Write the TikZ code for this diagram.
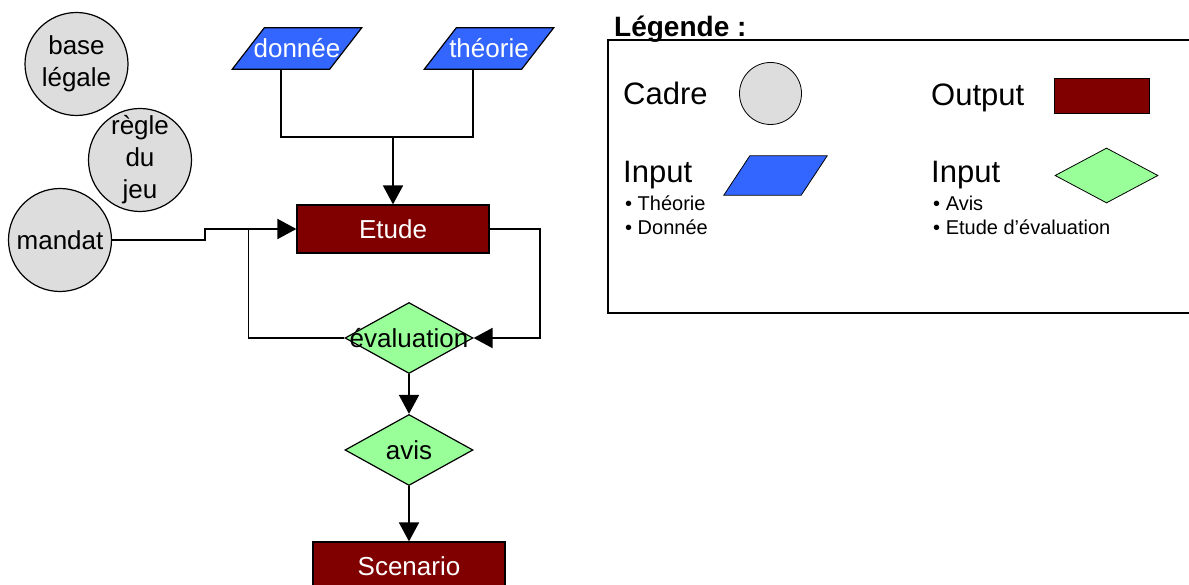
\documentclass[tikz,border=0pt]{standalone}
\usepackage{fontspec}
\setmainfont{Liberation Sans}
\usetikzlibrary{arrows.meta,shapes.geometric,backgrounds}
\definecolor{rougeSortie}{RGB}{128,0,0}
\definecolor{bleuEntree}{RGB}{51,102,255}
\definecolor{vertAvis}{RGB}{153,255,153}
\definecolor{grisCadre}{RGB}{221,221,221}
\newcommand{\gros}{\fontsize{26}{32}\selectfont}
\tikzset{
	cadre/.style={circle, draw, fill=grisCadre, line width=1.2pt, minimum size=103pt, inner sep=0pt},
	texteCadre/.style={align=center, font=\gros, inner sep=0pt},
	sortie/.style={rectangle, draw, fill=rougeSortie, line width=1.2pt, minimum width=192pt, minimum height=48pt, text=white, font=\gros},
	entree/.style={minimum width=97pt, minimum height=41pt, inner sep=0pt, text=white, font=\gros},
	losange/.style={diamond, draw, fill=vertAvis, line width=1.2pt, minimum width=128pt, minimum height=71pt, inner sep=0pt, font=\gros},
	fleche/.style={line width=1.8pt, -{Triangle[length=19pt,width=20pt]}},
	trait/.style={line width=1.8pt},
	legende/.style={anchor=base west, inner sep=0pt, font=\fontsize{31}{31}\selectfont},
	puce/.style={anchor=base west, inner sep=0pt, font=\fontsize{20}{24}\selectfont},
}
\begin{document}
\begin{tikzpicture}[x=1pt,y=-1pt]
	\useasboundingbox (0,0) rectangle (1189,585);
	% cadres
	\foreach \Nom/\Xc/\Yc/\Texto in 
	{base/76.5/64/{base\\légale},regle/140/160/{règle\\du\\jeu},mandat/60/240/{mandat}}
	{
		\node[cadre, label={[texteCadre]center:\Texto}] (\Nom) at (\Xc,\Yc) {};
	}
	% entrees et sorties
	\node[entree] (donnee) at (297,48.5) {donnée};
	\node[entree] (theorie) at (489,48.5) {théorie};
	\node[sortie] (etude) at (393,229) {Etude};
	\node[losange] (eval) at (409,338) {\makebox[0pt]{évaluation}};
	\node[losange] (avis) at (409,450) {avis};
	\node[sortie] (scenario) at (409,566) {Scenario};
	% legende
	\draw[line width=1.6pt] (608,40) rectangle (1200,313);
	\node[anchor=base west, inner sep=0pt, font=\fontsize{28}{28}\selectfont\bfseries] (titreLegende) at (614,37) {Légende :};
	\node[legende] (cleCadreTxt) at (623,105) {Cadre};
	\node[cadre, minimum size=62pt, line width=0.8pt] (cleCadre) at (770.5,93.5) {};
	\node[legende] (cleSortieTxt) at (931,106) {Output};
	\node[sortie, minimum width=95pt, minimum height=35pt, line width=0.8pt] (cleSortie) at (1101.5,95.5) {};
	\node[legende] (cleEntreeTxt) at (623,183) {Input};
	\node[entree, minimum width=77pt, minimum height=39pt] (clePara) at (775.5,175.5) {};
	\node[legende] (cleAvisTxt) at (931,183) {Input};
	\node[losange, minimum width=103pt, minimum height=55pt, line width=0.8pt] (cleLosange) at (1106.5,175.5) {};
	\foreach \Xc/\Yc/\Texto [count=\i] in 
	{625/211/Théorie,625/235/Donnée,933/211/Avis,933/235/Etude d’évaluation}
	{
		\node[puce] (puce\i) at (\Xc,\Yc) {• \Texto};
	}
	% parallelogrammes
	\begin{scope}[on background layer]
		\foreach \Nom/\Dx/\Lw in {donnee/16/1.2,theorie/16/1.2,clePara/13/0.8}
		{
			\filldraw[fill=bleuEntree, line width=\Lw pt] 
			([xshift=-\Dx pt]\Nom.south west) -- ([xshift=-\Dx pt]\Nom.south east) 
			-- ([xshift=\Dx pt]\Nom.north east) -- ([xshift=\Dx pt]\Nom.north west) -- cycle;
		}
	\end{scope}
	% connecteurs
	\coordinate (jonction) at (393,137);
	\draw[trait] ([xshift=-16pt]donnee.south) |- (jonction) -| ([xshift=-16pt]theorie.south);
	\draw[fleche] (jonction) -- (etude.north);
	\draw[fleche] (mandat.east) -- ++(93,0) |- (etude.west);
	\draw[trait] (eval.west) -| ([xshift=-48pt]etude.west);
	\draw[fleche] (etude.east) -- ++(50,0) |- (eval.east);
	\draw[fleche] (eval.south) -- (avis.north);
	\draw[fleche] (avis.south) -- (scenario.north);
\end{tikzpicture}
\end{document}
